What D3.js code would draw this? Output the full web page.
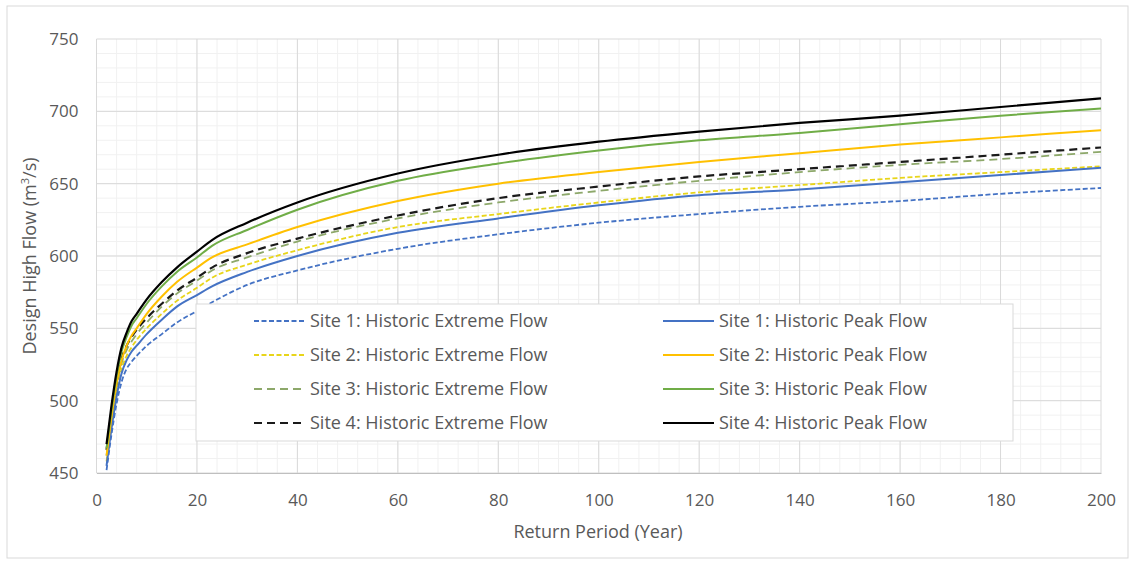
<!DOCTYPE html>
<html>
<head>
<meta charset="utf-8">
<script src="https://cdn.jsdelivr.net/npm/d3@7"></script>
<style>
  body { margin: 0; background: #fff; }
  text { font-family: "Open Sans", "Noto Sans", sans-serif; fill: #595959; }
</style>
</head>
<body>
<div id="flow_chart"></div>
<script>
// return periods (years) and design high flows (m3/s)
var returnPeriod = [2, 3, 4, 5, 6, 7, 8, 10, 13, 16, 20, 23, 30, 40, 60, 80, 100, 120, 140, 160, 180, 200];

var site1Extreme = [452, 477, 498, 513, 522, 527, 531, 538, 546, 554, 562, 568, 580, 590, 605, 615, 623, 629, 634, 638, 643, 647];
var site2Extreme = [458, 484, 506, 522, 531, 537, 542, 550, 560, 569, 578, 585, 594, 604, 620, 629, 637, 644, 649, 654, 658, 662];
var site3Extreme = [462, 488, 510, 526, 535, 541, 546, 554, 565, 574, 583, 590, 599, 610, 626, 637, 645, 652, 658, 663, 667, 672];
var site4Extreme = [466, 491, 513, 529, 538, 544, 549, 557, 567, 576, 585, 592, 602, 612, 628, 640, 648, 655, 660, 665, 670, 675];
var site1Peak = [455, 481, 503, 519, 528, 534, 538, 546, 556, 565, 573, 579, 589, 600, 616, 626, 635, 642, 646, 651, 656, 661];
var site2Peak = [462, 489, 512, 528, 538, 545, 550, 560, 572, 582, 592, 599, 608, 620, 638, 650, 658, 665, 671, 677, 682, 687];
var site3Peak = [467, 494, 517, 534, 544, 552, 557, 567, 579, 589, 599, 607, 618, 632, 652, 664, 673, 680, 685, 691, 697, 702];
var site4Peak = [470, 497, 520, 537, 547, 555, 560, 570, 582, 592, 603, 611, 623, 637, 657, 670, 679, 686, 692, 697, 703, 709];

var xTicks = [0, 20, 40, 60, 80, 100, 120, 140, 160, 180, 200];
var yTicks = [450, 500, 550, 600, 650, 700, 750];

var series = [
  {name: "Site 1: Historic Extreme Flow", values: site1Extreme, color: "#4472c4", dash: "5,2.5", width: 1.8},
  {name: "Site 2: Historic Extreme Flow", values: site2Extreme, color: "#e8d51a", dash: "5,2.5", width: 1.8},
  {name: "Site 3: Historic Extreme Flow", values: site3Extreme, color: "#8da86a", dash: "8,5", width: 1.8},
  {name: "Site 4: Historic Extreme Flow", values: site4Extreme, color: "#1a1a1a", dash: "8,5", width: 2.2},
  {name: "Site 1: Historic Peak Flow", values: site1Peak, color: "#4472c4", dash: null, width: 2},
  {name: "Site 2: Historic Peak Flow", values: site2Peak, color: "#ffc000", dash: null, width: 2},
  {name: "Site 3: Historic Peak Flow", values: site3Peak, color: "#70ad47", dash: null, width: 2},
  {name: "Site 4: Historic Peak Flow", values: site4Peak, color: "#000000", dash: null, width: 2.2}
];

// set the dimensions and margins of the graph
var margin = {top: 39, right: 33, bottom: 88, left: 96.5},
  width = 1134 - margin.left - margin.right,
  height = 561 - margin.top - margin.bottom;

var root = d3.select("#flow_chart")
  .append("svg")
    .attr("width", 1134)
    .attr("height", 561);

// outer chart border
root.append("rect")
  .attr("x", 7).attr("y", 6)
  .attr("width", 1121).attr("height", 552)
  .attr("fill", "#fff")
  .attr("stroke", "#d9d9d9");

var svg = root.append("g")
  .attr("transform", "translate(" + margin.left + "," + margin.top + ")");

var x = d3.scaleLinear().domain([0, 200]).range([0, width]);
var y = d3.scaleLinear().domain([450, 750]).range([height, 0]);

// minor grid
svg.append("g")
  .selectAll("line")
  .data(d3.range(4, 200, 4))
  .join("line")
    .attr("x1", d => x(d)).attr("x2", d => x(d))
    .attr("y1", 0).attr("y2", height)
    .attr("stroke", "#f1f1f1");
svg.append("g")
  .selectAll("line")
  .data(d3.range(460, 750, 10))
  .join("line")
    .attr("x1", 0).attr("x2", width)
    .attr("y1", d => y(d)).attr("y2", d => y(d))
    .attr("stroke", "#f1f1f1");

// major grid
svg.append("g")
  .selectAll("line")
  .data(xTicks)
  .join("line")
    .attr("x1", d => x(d)).attr("x2", d => x(d))
    .attr("y1", 0).attr("y2", height)
    .attr("stroke", "#d9d9d9");
svg.append("g")
  .selectAll("line")
  .data(yTicks)
  .join("line")
    .attr("x1", 0).attr("x2", width)
    .attr("y1", d => y(d)).attr("y2", d => y(d))
    .attr("stroke", "#d9d9d9");

// Add X axis
var xAxis = svg.append("g")
  .attr("transform", "translate(0," + height + ")")
  .call(d3.axisBottom(x).tickValues(xTicks).tickSize(0).tickPadding(21));
xAxis.select(".domain").attr("stroke", "#bfbfbf");
xAxis.selectAll("text").attr("font-size", 17).attr("fill", "#595959");

// Add Y axis
var yAxis = svg.append("g")
  .call(d3.axisLeft(y).tickValues(yTicks).tickSize(0).tickPadding(18));
yAxis.select(".domain").remove();
yAxis.selectAll("text").attr("font-size", 17).attr("fill", "#595959");

// axis titles
root.append("text")
  .attr("x", 598)
  .attr("y", 538)
  .attr("text-anchor", "middle")
  .attr("font-size", 18)
  .text("Return Period (Year)");

var yTitle = root.append("text")
  .attr("transform", "translate(36," + (margin.top + height / 2) + ") rotate(-90)")
  .attr("text-anchor", "middle")
  .attr("font-size", 18);
yTitle.append("tspan").text("Design High Flow (m");
yTitle.append("tspan").attr("font-size", 11).attr("dy", -7).text("3");
yTitle.append("tspan").attr("dy", 7).text("/s)");

// flow lines
var line = d3.line()
  .x((d, i) => x(returnPeriod[i]))
  .y(d => y(d))
  .curve(d3.curveMonotoneX);

series.forEach(function(s) {
  svg.append("path")
    .datum(s.values)
    .attr("fill", "none")
    .attr("stroke", s.color)
    .attr("stroke-width", s.width)
    .attr("stroke-dasharray", s.dash)
    .attr("d", line);
});

// legend
var legend = root.append("g");
legend.append("rect")
  .attr("x", 196).attr("y", 304)
  .attr("width", 817).attr("height", 137)
  .attr("fill", "#fff")
  .attr("stroke", "#d9d9d9");

var item = legend.selectAll("g.item")
  .data(series)
  .join("g")
    .attr("class", "item")
    .attr("transform", (d, i) => "translate(" + (i < 4 ? 254 : 663) + "," + (321 + (i % 4) * 34) + ")");
item.append("line")
  .attr("x1", 0).attr("x2", 51)
  .attr("stroke", d => d.color)
  .attr("stroke-width", d => d.width)
  .attr("stroke-dasharray", d => d.dash);
item.append("text")
  .attr("x", 56)
  .attr("dy", "0.35em")
  .attr("font-size", 18)
  .text(d => d.name);
</script>
</body>
</html>
